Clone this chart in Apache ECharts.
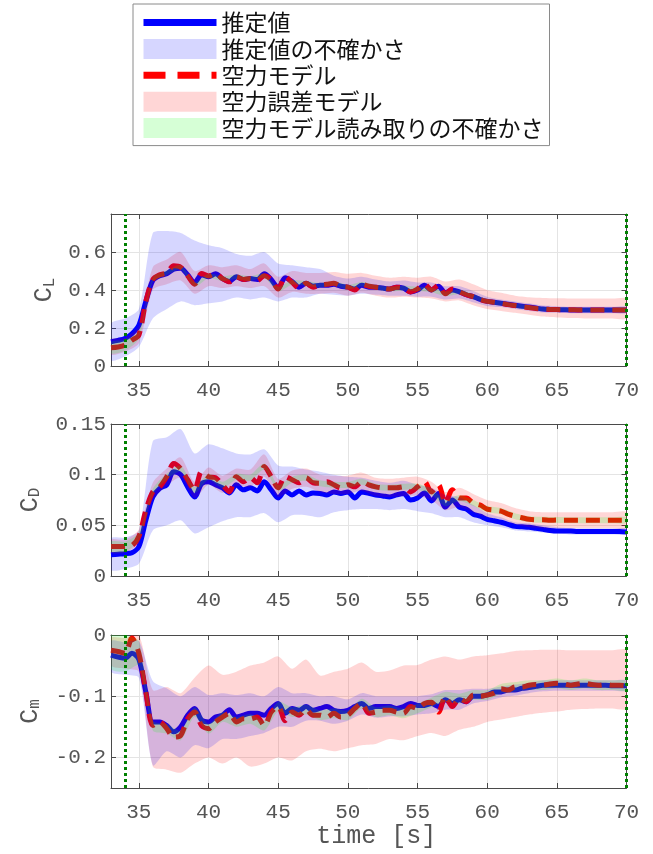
<!DOCTYPE html>
<html>
<head>
<meta charset="utf-8">
<title>空力係数の推定</title>
<script src="https://cdn.jsdelivr.net/npm/echarts@6/dist/echarts.min.js"></script>
<style>
  html, body { margin: 0; padding: 0; background: #fff; }
  #chart { width: 653px; height: 854px; }
</style>
</head>
<body>
<div id="chart"></div>
<script>
// ---- sampling grids [s] ----
const timeFine = [
  33, 33.5, 34, 34.5, 35, 35.5, 36, 36.5, 37, 37.5,
  38, 38.5, 39, 39.5, 40, 40.5, 41, 41.5, 42, 42.5,
  43, 43.5, 44, 44.5, 45, 45.5, 46, 46.5, 47, 47.5,
  48, 48.5, 49, 49.5, 50, 50.5, 51, 51.5, 52, 52.5,
  53, 53.5, 54, 54.5, 55, 55.5, 56, 56.5, 57, 57.5,
  58, 58.5, 59, 59.5, 60, 60.5, 61, 61.5, 62, 62.5,
  63, 63.5, 64, 64.5, 65, 65.5, 66, 66.5, 67, 67.5,
  68, 68.5, 69, 69.5, 70
];
const timeBand = [
  33, 34, 35, 36, 37, 38, 39, 40, 41, 42,
  43, 44, 45, 46, 47, 48, 49, 50, 51, 52,
  53, 54, 55, 56, 57, 58, 59, 60, 61, 62,
  63, 64, 65, 66, 67, 68, 69, 70
];
// vertical markers (analysis window)
const markTimes = [34, 70];

// ---- tick values ----
const xTicks = [35, 40, 45, 50, 55, 60, 65, 70];
const clTicks = [0, 0.2, 0.4, 0.6];
const cdTicks = [0, 0.05, 0.1, 0.15];
const cmTicks = [-0.2, -0.1, 0];

// ---- C_L ----
const clEst = [
  0.128, 0.135, 0.145, 0.170, 0.215, 0.340, 0.450, 0.475, 0.485, 0.510,
  0.515, 0.480, 0.440, 0.480, 0.470, 0.485, 0.460, 0.445, 0.470, 0.455,
  0.460, 0.455, 0.485, 0.455, 0.410, 0.465, 0.445, 0.415, 0.435, 0.420,
  0.425, 0.425, 0.430, 0.420, 0.415, 0.405, 0.425, 0.415, 0.415, 0.410,
  0.405, 0.415, 0.410, 0.390, 0.400, 0.425, 0.400, 0.420, 0.385, 0.400,
  0.390, 0.375, 0.365, 0.350, 0.340, 0.335, 0.330, 0.325, 0.320, 0.315,
  0.310, 0.305, 0.300, 0.298, 0.297, 0.296, 0.295, 0.295, 0.295, 0.295,
  0.295, 0.295, 0.295, 0.295, 0.295
];
const clModel = [
  0.096, 0.100, 0.110, 0.136, 0.163, 0.340, 0.455, 0.480, 0.490, 0.527,
  0.520, 0.475, 0.430, 0.487, 0.474, 0.487, 0.460, 0.443, 0.469, 0.455,
  0.460, 0.450, 0.475, 0.455, 0.405, 0.470, 0.440, 0.410, 0.435, 0.415,
  0.425, 0.430, 0.435, 0.420, 0.415, 0.400, 0.430, 0.420, 0.415, 0.410,
  0.405, 0.415, 0.410, 0.390, 0.405, 0.430, 0.400, 0.425, 0.380, 0.405,
  0.390, 0.375, 0.365, 0.350, 0.340, 0.335, 0.330, 0.323, 0.318, 0.312,
  0.308, 0.303, 0.300, 0.298, 0.297, 0.296, 0.296, 0.295, 0.295, 0.295,
  0.295, 0.295, 0.295, 0.295, 0.295
];
const clEstLo = [
  0.030, 0.050, 0.100, 0.250, 0.300, 0.340, 0.320, 0.330, 0.340, 0.360,
  0.350, 0.360, 0.340, 0.360, 0.360, 0.380, 0.375, 0.370, 0.380, 0.375,
  0.370, 0.370, 0.365, 0.365, 0.350, 0.355, 0.335, 0.315, 0.310, 0.300,
  0.290, 0.282, 0.280, 0.278, 0.278, 0.278, 0.278, 0.278
];
const clEstHi = [
  0.224, 0.250, 0.300, 0.700, 0.710, 0.700, 0.660, 0.635, 0.620, 0.590,
  0.580, 0.600, 0.540, 0.530, 0.520, 0.510, 0.475, 0.460, 0.470, 0.455,
  0.445, 0.450, 0.440, 0.440, 0.420, 0.420, 0.395, 0.365, 0.350, 0.340,
  0.330, 0.318, 0.315, 0.312, 0.312, 0.312, 0.312, 0.312
];
const clErrLo = [
  0.060, 0.075, 0.120, 0.400, 0.430, 0.450, 0.380, 0.420, 0.410, 0.420,
  0.410, 0.420, 0.360, 0.390, 0.380, 0.380, 0.385, 0.370, 0.385, 0.370,
  0.360, 0.365, 0.360, 0.355, 0.340, 0.345, 0.320, 0.300, 0.290, 0.280,
  0.270, 0.260, 0.255, 0.252, 0.250, 0.250, 0.250, 0.250
];
const clErrHi = [
  0.140, 0.150, 0.210, 0.520, 0.560, 0.600, 0.500, 0.530, 0.520, 0.530,
  0.510, 0.540, 0.470, 0.500, 0.490, 0.490, 0.495, 0.485, 0.490, 0.475,
  0.465, 0.470, 0.465, 0.470, 0.445, 0.455, 0.430, 0.400, 0.385, 0.370,
  0.362, 0.358, 0.356, 0.355, 0.355, 0.355, 0.355, 0.355
];
const clReadHalf = [
  0.030, 0.030, 0.020, 0.012, 0.012, 0.012, 0.012, 0.012, 0.012, 0.012,
  0.012, 0.012, 0.012, 0.012, 0.012, 0.012, 0.012, 0.012, 0.012, 0.012,
  0.012, 0.012, 0.012, 0.012, 0.012, 0.012, 0.012, 0.012, 0.012, 0.012,
  0.012, 0.012, 0.012, 0.012, 0.012, 0.012, 0.012, 0.012
];

// ---- C_D ----
const cdEst = [
  0.021, 0.0215, 0.022, 0.023, 0.029, 0.055, 0.078, 0.0865, 0.090, 0.103,
  0.100, 0.088, 0.078, 0.091, 0.093, 0.090, 0.087, 0.082, 0.090, 0.085,
  0.087, 0.084, 0.093, 0.085, 0.077, 0.084, 0.080, 0.084, 0.080, 0.082,
  0.0815, 0.080, 0.083, 0.0815, 0.083, 0.077, 0.083, 0.0815, 0.080, 0.079,
  0.078, 0.080, 0.0815, 0.075, 0.077, 0.082, 0.074, 0.0815, 0.068, 0.075,
  0.068, 0.066, 0.061, 0.059, 0.056, 0.0545, 0.053, 0.051, 0.049, 0.0485,
  0.048, 0.047, 0.046, 0.045, 0.0445, 0.0445, 0.0445, 0.044, 0.044, 0.044,
  0.044, 0.044, 0.044, 0.044, 0.0435
];
const cdModel = [
  0.029, 0.029, 0.029, 0.030, 0.039, 0.065, 0.083, 0.088, 0.098, 0.111,
  0.106, 0.095, 0.085, 0.103, 0.098, 0.097, 0.090, 0.083, 0.098, 0.093,
  0.097, 0.092, 0.108, 0.098, 0.087, 0.098, 0.095, 0.092, 0.097, 0.092,
  0.0915, 0.093, 0.090, 0.087, 0.090, 0.088, 0.093, 0.090, 0.088, 0.087,
  0.087, 0.087, 0.088, 0.083, 0.088, 0.093, 0.083, 0.090, 0.072, 0.085,
  0.077, 0.077, 0.072, 0.070, 0.066, 0.065, 0.064, 0.061, 0.059, 0.0575,
  0.056, 0.0555, 0.0555, 0.055, 0.0552, 0.055, 0.055, 0.055, 0.055, 0.055,
  0.055, 0.055, 0.055, 0.055, 0.055
];
const cdEstLo = [
  0.006, 0.007, 0.012, 0.045, 0.050, 0.055, 0.042, 0.048, 0.054, 0.058,
  0.058, 0.062, 0.053, 0.060, 0.060, 0.058, 0.063, 0.065, 0.066, 0.066,
  0.065, 0.066, 0.064, 0.062, 0.058, 0.058, 0.053, 0.050, 0.048, 0.045,
  0.044, 0.043, 0.042, 0.041, 0.041, 0.041, 0.041, 0.041
];
const cdEstHi = [
  0.037, 0.038, 0.045, 0.133, 0.137, 0.145, 0.121, 0.130, 0.126, 0.121,
  0.120, 0.125, 0.109, 0.108, 0.105, 0.103, 0.100, 0.098, 0.097, 0.094,
  0.092, 0.094, 0.090, 0.087, 0.080, 0.078, 0.070, 0.062, 0.058, 0.053,
  0.052, 0.050, 0.048, 0.047, 0.047, 0.047, 0.047, 0.047
];
const cdErrLo = [
  0.023, 0.023, 0.032, 0.075, 0.089, 0.097, 0.077, 0.090, 0.082, 0.089,
  0.088, 0.098, 0.078, 0.086, 0.088, 0.083, 0.081, 0.081, 0.084, 0.079,
  0.078, 0.079, 0.079, 0.075, 0.065, 0.068, 0.063, 0.058, 0.056, 0.051,
  0.048, 0.047, 0.047, 0.047, 0.047, 0.047, 0.047, 0.047
];
const cdErrHi = [
  0.036, 0.036, 0.046, 0.092, 0.106, 0.117, 0.093, 0.107, 0.099, 0.106,
  0.105, 0.120, 0.096, 0.104, 0.106, 0.100, 0.099, 0.099, 0.102, 0.097,
  0.096, 0.097, 0.098, 0.093, 0.083, 0.087, 0.081, 0.075, 0.072, 0.067,
  0.064, 0.063, 0.063, 0.063, 0.063, 0.063, 0.063, 0.063
];
const cdReadHalf = [
  0.005, 0.005, 0.004, 0.003, 0.003, 0.003, 0.003, 0.003, 0.003, 0.003,
  0.003, 0.003, 0.003, 0.003, 0.003, 0.003, 0.003, 0.003, 0.003, 0.003,
  0.003, 0.003, 0.003, 0.003, 0.003, 0.003, 0.003, 0.003, 0.003, 0.003,
  0.003, 0.003, 0.003, 0.003, 0.003, 0.003, 0.003, 0.003
];

// ---- C_m ----
const cmEst = [
  -0.033, -0.036, -0.038, -0.030, -0.040, -0.093, -0.142, -0.142, -0.148, -0.158,
  -0.150, -0.131, -0.120, -0.139, -0.142, -0.134, -0.131, -0.122, -0.134, -0.131,
  -0.128, -0.128, -0.131, -0.120, -0.112, -0.128, -0.120, -0.123, -0.117, -0.123,
  -0.120, -0.117, -0.123, -0.125, -0.123, -0.117, -0.112, -0.120, -0.117, -0.117,
  -0.117, -0.120, -0.117, -0.112, -0.115, -0.115, -0.112, -0.117, -0.106, -0.112,
  -0.106, -0.109, -0.100, -0.100, -0.098, -0.093, -0.093, -0.090, -0.090, -0.087,
  -0.086, -0.084, -0.082, -0.082, -0.082, -0.082, -0.082, -0.082, -0.082, -0.082,
  -0.082, -0.082, -0.083, -0.083, -0.083
];
const cmModel = [
  -0.025, -0.027, -0.030, -0.005, -0.030, -0.093, -0.148, -0.142, -0.153, -0.167,
  -0.164, -0.137, -0.126, -0.148, -0.153, -0.142, -0.134, -0.128, -0.142, -0.137,
  -0.137, -0.134, -0.148, -0.126, -0.117, -0.140, -0.126, -0.131, -0.122, -0.131,
  -0.131, -0.134, -0.128, -0.134, -0.131, -0.120, -0.112, -0.128, -0.126, -0.123,
  -0.123, -0.126, -0.128, -0.117, -0.120, -0.112, -0.110, -0.126, -0.101, -0.117,
  -0.104, -0.109, -0.098, -0.100, -0.098, -0.095, -0.088, -0.090, -0.085, -0.085,
  -0.082, -0.081, -0.082, -0.080, -0.079, -0.080, -0.082, -0.080, -0.079, -0.081,
  -0.082, -0.081, -0.082, -0.082, -0.083
];
const cmEstLo = [
  -0.060, -0.065, -0.070, -0.213, -0.190, -0.200, -0.180, -0.185, -0.170, -0.170,
  -0.165, -0.160, -0.150, -0.150, -0.140, -0.140, -0.145, -0.140, -0.130, -0.135,
  -0.133, -0.133, -0.130, -0.128, -0.122, -0.122, -0.112, -0.108, -0.102, -0.099,
  -0.095, -0.092, -0.091, -0.091, -0.091, -0.091, -0.091, -0.091
];
const cmEstHi = [
  -0.010, -0.012, -0.010, -0.075, -0.087, -0.100, -0.085, -0.098, -0.095, -0.098,
  -0.095, -0.100, -0.085, -0.095, -0.095, -0.100, -0.100, -0.105, -0.095, -0.100,
  -0.100, -0.100, -0.100, -0.097, -0.090, -0.090, -0.088, -0.088, -0.084, -0.081,
  -0.078, -0.074, -0.074, -0.074, -0.074, -0.074, -0.074, -0.074
];
const cmErrLo = [
  -0.050, -0.055, -0.060, -0.215, -0.220, -0.225, -0.210, -0.200, -0.210, -0.200,
  -0.215, -0.210, -0.200, -0.205, -0.190, -0.186, -0.190, -0.185, -0.180, -0.178,
  -0.170, -0.172, -0.165, -0.160, -0.165, -0.155, -0.150, -0.142, -0.138, -0.134,
  -0.130, -0.127, -0.125, -0.122, -0.121, -0.120, -0.120, -0.120
];
const cmErrHi = [
  -0.005, -0.005, 0.000, -0.090, -0.085, -0.095, -0.070, -0.050, -0.065, -0.060,
  -0.050, -0.045, -0.035, -0.055, -0.040, -0.066, -0.060, -0.055, -0.045, -0.060,
  -0.058, -0.050, -0.049, -0.040, -0.035, -0.040, -0.035, -0.033, -0.030, -0.026,
  -0.025, -0.024, -0.024, -0.025, -0.025, -0.025, -0.025, -0.025
];
const cmReadHalf = [
  0.030, 0.030, 0.020, 0.008, 0.008, 0.008, 0.008, 0.008, 0.008, 0.008,
  0.008, 0.008, 0.008, 0.008, 0.008, 0.008, 0.008, 0.008, 0.008, 0.008,
  0.008, 0.008, 0.008, 0.008, 0.008, 0.008, 0.008, 0.008, 0.008, 0.008,
  0.008, 0.008, 0.008, 0.008, 0.008, 0.008, 0.008, 0.008
];

// ---- legend names ----
const NAME_EST = '推定値';
const NAME_EST_UNC = '推定値の不確かさ';
const NAME_MODEL = '空力モデル';
const NAME_ERR = '空力誤差モデル';
const NAME_READ = '空力モデル読み取りの不確かさ';

// ---- styling ----
const BLUE = '#0000ff';
const RED = '#ff0000';
const BLUE_FILL = 'rgba(0,0,255,0.16)';
const RED_FILL = 'rgba(255,0,0,0.16)';
const GREEN_FILL = 'rgba(0,255,0,0.16)';
const MARK_GREEN = '#008000';
const AXIS_COLOR = '#4a4a4a';
const LABEL_COLOR = '#555555';
const GRID_COLOR = '#e4e4e4';
const MONO = '"Liberation Mono", "DejaVu Sans Mono", monospace';
const TICK_FONT = 21;

const panels = [
  { top: 214, height: 152, min: 0, max: 0.8, ticks: clTicks, sub: 'L', gap: 53,
    est: clEst, model: clModel, estLo: clEstLo, estHi: clEstHi,
    errLo: clErrLo, errHi: clErrHi, readHalf: clReadHalf },
  { top: 424, height: 152, min: 0, max: 0.15, ticks: cdTicks, sub: 'D', gap: 68,
    est: cdEst, model: cdModel, estLo: cdEstLo, estHi: cdEstHi,
    errLo: cdErrLo, errHi: cdErrHi, readHalf: cdReadHalf },
  { top: 635, height: 153, min: -0.25, max: 0, ticks: cmTicks, sub: 'm', gap: 68,
    est: cmEst, model: cmModel, estLo: cmEstLo, estHi: cmEstHi,
    errLo: cmErrLo, errHi: cmErrHi, readHalf: cmReadHalf }
];

const zip = (xs, ys) => xs.map((x, i) => [x, ys[i]]);

// Filled band between lo and hi, drawn as one polygon through the axis scales.
function bandSeries(name, xi, yi, times, lo, hi, color, extra) {
  const s = {
    type: 'custom', name: name, xAxisIndex: xi, yAxisIndex: yi,
    coordinateSystem: 'cartesian2d', silent: true, clip: true, z: 3,
    itemStyle: { color: color }, color: color,
    encode: { x: 0, y: [1, 2] },
    data: times.map((t, i) => [t, lo[i], hi[i]]),
    renderItem: function (params, api) {
      if (params.dataIndex !== 0) return null;
      const upper = times.map((t, i) => api.coord([t, hi[i]]));
      const lower = times.map((t, i) => api.coord([t, lo[i]])).reverse();
      return {
        type: 'polygon',
        shape: { points: upper.concat(lower), smooth: 0.25 },
        style: { fill: color, stroke: null }
      };
    }
  };
  return Object.assign(s, extra || {});
}

const grid = [];
const xAxis = [];
const yAxis = [];
const series = [];

const tickStyle = { color: AXIS_COLOR, width: 1 };

panels.forEach((p, k) => {
  grid.push({ left: 111, width: 515.5, top: p.top, height: p.height,
              containLabel: false, outerBoundsMode: 'none' });

  const isLast = k === panels.length - 1;
  // bottom x axis with labels
  xAxis.push({
    type: 'value', gridIndex: k, min: 33, max: 70, position: 'bottom',
    name: isLast ? 'time [s]' : '', nameLocation: 'middle', nameGap: 35,
    nameTextStyle: { fontFamily: MONO, fontSize: 25, color: LABEL_COLOR, padding: [0, 0, 0, 15] },
    axisLine: { show: true, onZero: false, lineStyle: tickStyle },
    axisTick: { show: true, inside: true, length: 5, customValues: xTicks, lineStyle: tickStyle },
    axisLabel: { show: true, customValues: xTicks, margin: 14, fontFamily: MONO,
                 fontSize: TICK_FONT, color: LABEL_COLOR },
    splitLine: { show: true, lineStyle: { color: GRID_COLOR, width: 1 } }
  });
  // top x axis (box edge)
  xAxis.push({
    type: 'value', gridIndex: k, min: 33, max: 70, position: 'top',
    axisLine: { show: true, onZero: false, lineStyle: tickStyle },
    axisTick: { show: true, inside: true, length: 5, customValues: xTicks, lineStyle: tickStyle },
    axisLabel: { show: false },
    splitLine: { show: false }
  });
  // left y axis with labels
  yAxis.push({
    type: 'value', gridIndex: k, min: p.min, max: p.max, position: 'left',
    name: '{c|C}{s|' + p.sub + '}', nameLocation: 'middle', nameRotate: 90, nameGap: p.gap,
    nameTextStyle: {
      color: LABEL_COLOR, fontFamily: MONO,
      rich: {
        c: { fontFamily: MONO, fontSize: 25, lineHeight: 25, color: LABEL_COLOR, verticalAlign: 'top' },
        s: { fontFamily: MONO, fontSize: 16, lineHeight: 16, color: LABEL_COLOR, verticalAlign: 'bottom',
             padding: [31, 0, 0, 0] }
      }
    },
    axisLine: { show: true, onZero: false, lineStyle: tickStyle },
    axisTick: { show: true, inside: true, length: 5, customValues: p.ticks, lineStyle: tickStyle },
    axisLabel: { show: true, customValues: p.ticks, margin: 5, fontFamily: MONO,
                 fontSize: TICK_FONT, color: LABEL_COLOR },
    splitLine: { show: true, lineStyle: { color: GRID_COLOR, width: 1 } }
  });
  // right y axis (box edge)
  yAxis.push({
    type: 'value', gridIndex: k, min: p.min, max: p.max, position: 'right',
    axisLine: { show: true, onZero: false, lineStyle: tickStyle },
    axisTick: { show: true, inside: true, length: 5, customValues: p.ticks, lineStyle: tickStyle },
    axisLabel: { show: false },
    splitLine: { show: false }
  });

  const xi = 2 * k, yi = 2 * k;

  // estimate and model curves (drawn beneath the translucent bands)
  series.push({
    type: 'line', name: NAME_EST, xAxisIndex: xi, yAxisIndex: yi, z: 2,
    data: zip(timeFine, p.est), symbol: 'none', smooth: 0.3,
    lineStyle: { color: BLUE, width: 5 }, itemStyle: { color: BLUE }, color: BLUE
  });
  series.push({
    type: 'line', name: NAME_MODEL, xAxisIndex: xi, yAxisIndex: yi, z: 2,
    data: zip(timeFine, p.model), symbol: 'none', smooth: 0.3,
    lineStyle: { color: RED, width: 5, type: [14, 8] }, itemStyle: { color: RED }, color: RED
  });

  // model read-off band centred on the model curve at the band sample times
  const readLo = timeBand.map((t, i) => p.model[timeFine.indexOf(t)] - p.readHalf[i]);
  const readHi = timeBand.map((t, i) => p.model[timeFine.indexOf(t)] + p.readHalf[i]);

  series.push(bandSeries(NAME_ERR, xi, yi, timeBand, p.errLo, p.errHi, RED_FILL));
  series.push(bandSeries(NAME_EST_UNC, xi, yi, timeBand, p.estLo, p.estHi, BLUE_FILL));
  series.push(bandSeries(NAME_READ, xi, yi, timeBand, readLo, readHi, GREEN_FILL, {
    markLine: {
      silent: true, symbol: ['none', 'none'], label: { show: false }, z: 5,
      lineStyle: { color: MARK_GREEN, width: 3, type: [3, 3], opacity: 1 },
      data: markTimes.map(t => ({ xAxis: t }))
    }
  }));
});

const HIDDEN = { color: 'rgba(0,0,0,0)', opacity: 0, borderWidth: 0 };

const chart = echarts.init(document.getElementById('chart'), null, { renderer: 'canvas' });
chart.setOption({
  animation: false,
  backgroundColor: '#ffffff',
  legend: {
    orient: 'vertical', left: 133, top: 4,
    padding: [7, 6, 6, 7], itemGap: 3.4, itemWidth: 73, itemHeight: 20,
    borderColor: '#8a8a8a', borderWidth: 1, backgroundColor: '#ffffff',
    selectedMode: false,
    textStyle: { fontFamily: '"Noto Sans CJK JP", sans-serif', fontSize: 23, lineHeight: 23,
                 color: '#111' },
    data: [
      { name: NAME_EST, lineStyle: { width: 7, color: BLUE }, itemStyle: HIDDEN },
      { name: NAME_EST_UNC, icon: 'rect', itemStyle: { color: BLUE_FILL } },
      { name: NAME_MODEL, lineStyle: { width: 7, color: RED, type: [22, 12] }, itemStyle: HIDDEN },
      { name: NAME_ERR, icon: 'rect', itemStyle: { color: RED_FILL } },
      { name: NAME_READ, icon: 'rect', itemStyle: { color: GREEN_FILL } }
    ]
  },
  grid: grid,
  xAxis: xAxis,
  yAxis: yAxis,
  series: series
});
</script>
</body>
</html>
